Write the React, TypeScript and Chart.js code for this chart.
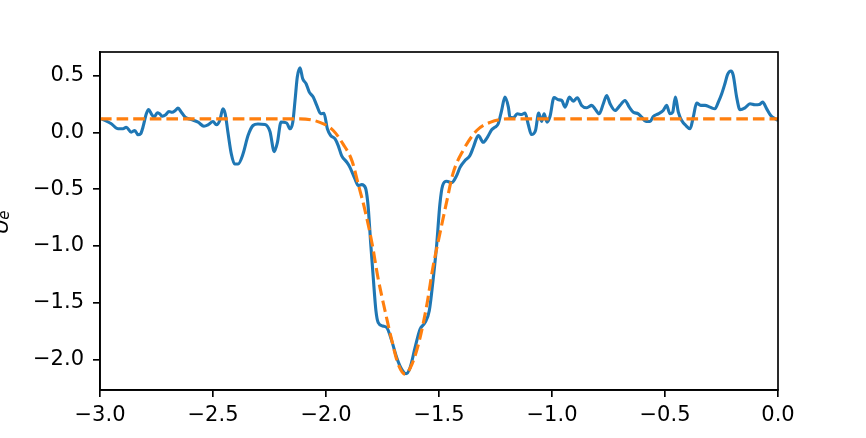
import React, { useEffect, useRef } from "react";
import { Chart, registerables } from "chart.js";

Chart.register(...registerables);

// Measured curve (blue)
const measuredX = [
  -2.992, -2.95, -2.92, -2.898, -2.884, -2.862, -2.846, -2.832, -2.82, -2.81,
  -2.795, -2.785, -2.773, -2.761, -2.746, -2.736, -2.724, -2.709, -2.695, -2.681,
  -2.667, -2.655, -2.64, -2.623, -2.596, -2.566, -2.54, -2.522, -2.5, -2.485,
  -2.47, -2.456, -2.446, -2.434, -2.419, -2.404, -2.389, -2.367, -2.345, -2.323,
  -2.301, -2.27, -2.248, -2.229, -2.215, -2.199, -2.174, -2.159, -2.147, -2.137,
  -2.127, -2.115, -2.103, -2.088, -2.074, -2.056, -2.041, -2.023, -2.009, -1.994,
  -1.979, -1.96, -1.946, -1.931, -1.908, -1.894, -1.872, -1.857, -1.842, -1.825,
  -1.816, -1.812, -1.802, -1.791, -1.779, -1.769, -1.749, -1.731, -1.709, -1.687,
  -1.665, -1.646, -1.628, -1.606, -1.584, -1.562, -1.543, -1.525, -1.51, -1.496,
  -1.484, -1.466, -1.444, -1.422, -1.407, -1.385, -1.363, -1.348, -1.326, -1.304,
  -1.286, -1.267, -1.252, -1.238, -1.223, -1.208, -1.193, -1.186, -1.171, -1.154,
  -1.134, -1.119, -1.105, -1.091, -1.073, -1.059, -1.046, -1.035, -1.022, -1.009,
  -0.991, -0.972, -0.957, -0.942, -0.923, -0.906, -0.888, -0.869, -0.846, -0.824,
  -0.81, -0.791, -0.773, -0.758, -0.743, -0.721, -0.699, -0.677, -0.658, -0.64,
  -0.618, -0.603, -0.584, -0.566, -0.552, -0.53, -0.508, -0.493, -0.478, -0.466,
  -0.454, -0.441, -0.426, -0.408, -0.389, -0.375, -0.36, -0.342, -0.323, -0.301,
  -0.279, -0.264, -0.249, -0.235, -0.223, -0.208, -0.198, -0.183, -0.168, -0.146,
  -0.124, -0.102, -0.083, -0.068, -0.05, -0.032, -0.013, 0.0,
];
const measuredY = [
  0.121, 0.077, 0.033, 0.033, 0.047, 0.003, 0.018, -0.02, -0.011, 0.047,
  0.165, 0.203, 0.165, 0.135, 0.174, 0.165, 0.144, 0.156, 0.186, 0.179,
  0.194, 0.215, 0.179, 0.135, 0.115, 0.091, 0.056, 0.068, 0.097, 0.068,
  0.106, 0.209, 0.165, 0.003, -0.188, -0.277, -0.277, -0.188, -0.027, 0.062,
  0.075, 0.071, 0.009, -0.168, -0.088, 0.093, 0.084, 0.033, 0.091, 0.283,
  0.489, 0.57, 0.474, 0.43, 0.356, 0.312, 0.239, 0.165, 0.17, 0.033,
  -0.027, -0.056, -0.115, -0.203, -0.262, -0.307, -0.409, -0.468, -0.459, -0.49,
  -0.601, -0.689, -0.983, -1.278, -1.572, -1.676, -1.705, -1.72, -1.837, -1.985,
  -2.087, -2.126, -2.073, -1.897, -1.734, -1.676, -1.572, -1.278, -0.983, -0.63,
  -0.468, -0.43, -0.442, -0.38, -0.307, -0.247, -0.203, -0.13, -0.027, -0.086,
  -0.042, 0.024, 0.047, 0.077, 0.194, 0.312, 0.224, 0.135, 0.13, 0.165,
  0.159, 0.172, 0.071, -0.018, 0.018, 0.172, 0.097, 0.165, 0.091, 0.141,
  0.309, 0.289, 0.283, 0.224, 0.312, 0.277, 0.307, 0.239, 0.218, 0.239,
  0.209, 0.165, 0.254, 0.327, 0.254, 0.194, 0.239, 0.283, 0.224, 0.179,
  0.165, 0.135, 0.097, 0.097, 0.141, 0.165, 0.194, 0.239, 0.165, 0.179,
  0.312, 0.179, 0.106, 0.062, 0.033, 0.135, 0.259, 0.239, 0.239, 0.224,
  0.209, 0.268, 0.342, 0.43, 0.512, 0.542, 0.504, 0.312, 0.201, 0.218,
  0.254, 0.245, 0.247, 0.268, 0.209, 0.15, 0.121, 0.106,
];

// Fitted curve (orange, dashed)
const fitX = [
  -3.0, -2.115, -2.027, -1.969, -1.925, -1.885, -1.858, -1.827, -1.796, -1.77,
  -1.739, -1.708, -1.681, -1.65, -1.619, -1.584, -1.553, -1.527, -1.496, -1.465,
  -1.438, -1.394, -1.332, -1.274, -1.199, 0.0,
];
const fitY = [
  0.12, 0.12, 0.09, 0.02, -0.1, -0.25, -0.45, -0.69, -0.98, -1.28,
  -1.57, -1.84, -2.04, -2.13, -2.04, -1.81, -1.51, -1.19, -0.89, -0.6,
  -0.36, -0.16, 0.02, 0.09, 0.12, 0.12,
];

const xTicks = [-3.0, -2.5, -2.0, -1.5, -1.0, -0.5, 0.0];
const yTicks = [-2.0, -1.5, -1.0, -0.5, 0.0, 0.5];
const xRange = [-3.0, 0.0];
const yRange = [-2.27, 0.71];
const yLabelMain = "U";
const yLabelSub = "e";

const FONT = '"DejaVu Sans", sans-serif';
const fmt = (v: number) => v.toFixed(1).replace("-", "\u2212");

export default function App() {
  const ref = useRef<HTMLCanvasElement | null>(null);

  useEffect(() => {
    if (!ref.current) return;
    const framePlugin = {
      id: "frame",
      afterDraw(chart: any) {
        const { ctx, chartArea } = chart;
        ctx.save();
        ctx.strokeStyle = "#000";
        ctx.lineWidth = 1.67;
        ctx.strokeRect(chartArea.left, chartArea.top, chartArea.right - chartArea.left, chartArea.bottom - chartArea.top);
        // y label
        ctx.translate(8, 234);
        ctx.rotate(-Math.PI / 2);
        ctx.fillStyle = "#000";
        ctx.textBaseline = "alphabetic";
        ctx.textAlign = "left";
        ctx.font = `italic 21px ${FONT}`;
        ctx.fillText(yLabelMain, 0, 0);
        const w = ctx.measureText(yLabelMain).width;
        ctx.font = `italic 15px ${FONT}`;
        ctx.fillText(yLabelSub, w - 1, 1);
        ctx.restore();
      },
    };

    const chart = new Chart(ref.current, {
      type: "line",
      data: {
        datasets: [
          {
            data: fitX.map((x, i) => ({ x, y: fitY[i] })),
            borderColor: "#ff7f0e",
            borderWidth: 3.1,
            borderDash: [11.6, 5],
            pointRadius: 0,
            cubicInterpolationMode: "monotone",
            fill: false,
            order: 0,
          },
          {
            data: measuredX.map((x, i) => ({ x, y: measuredY[i] })),
            borderColor: "#1f77b4",
            borderWidth: 3.1,
            borderJoinStyle: "round",
            pointRadius: 0,
            cubicInterpolationMode: "monotone",
            fill: false,
            order: 1,
          },
        ],
      },
      options: {
        responsive: false,
        animation: false,
        events: [],
        layout: { padding: { left: 0, right: 88, top: 52, bottom: 0 } },
        plugins: { legend: { display: false }, tooltip: { enabled: false } },
        scales: {
          x: {
            type: "linear",
            min: xRange[0],
            max: xRange[1],
            afterBuildTicks: (axis: any) => {
              axis.ticks = xTicks.map((v) => ({ value: v }));
            },
            afterFit: (s: any) => {
              s.height = 48;
            },
            grid: { display: true, drawOnChartArea: false, drawTicks: true, tickLength: 7, color: "#000", lineWidth: 1.67 },
            border: { display: true, color: "#000", width: 1.67 },
            ticks: {
              color: "#000",
              font: { family: FONT, size: 21 },
              padding: 6,
              maxRotation: 0,
              autoSkip: false,
              callback: (v: any) => fmt(Number(v)),
            },
          },
          y: {
            type: "linear",
            min: yRange[0],
            max: yRange[1],
            afterBuildTicks: (axis: any) => {
              axis.ticks = yTicks.map((v) => ({ value: v }));
            },
            afterFit: (s: any) => {
              s.width = 100;
            },
            grid: { display: true, drawOnChartArea: false, drawTicks: true, tickLength: 7, color: "#000", lineWidth: 1.67 },
            border: { display: true, color: "#000", width: 1.67 },
            ticks: {
              color: "#000",
              font: { family: FONT, size: 21 },
              padding: 9,
              autoSkip: false,
              callback: (v: any) => fmt(Number(v)),
            },
          },
        },
      },
      plugins: [framePlugin],
    } as any);
    return () => chart.destroy();
  }, []);

  return (
    <canvas
      ref={ref}
      width={866}
      height={438}
      style={{ position: "absolute", left: 0, top: 0, width: 866, height: 438 }}
    />
  );
}
